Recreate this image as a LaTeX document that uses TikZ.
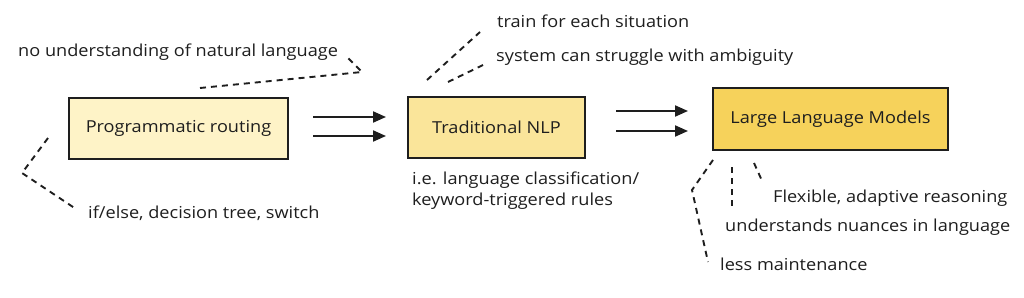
\documentclass[tikz,border=0pt]{standalone}
\usepackage{fontspec}
\setmainfont{Open Sans}[FakeStretch=1.1]
\usetikzlibrary{arrows.meta}
\definecolor{ink}{HTML}{1E1E1E}
\definecolor{boxa}{HTML}{FEF3C7}
\definecolor{boxb}{HTML}{FAE59A}
\definecolor{boxc}{HTML}{F6D25B}
\tikzset{
  stage/.style={draw=ink, line width=2pt, inner sep=0pt, anchor=north west, text=ink},
  label/.style={text=ink, font=\fontsize{16.5}{19}\selectfont},
  note/.style={text=ink, inner sep=0pt, anchor=west, font=\fontsize{16.5}{21}\selectfont},
  dashlink/.style={draw=ink, line width=1.9pt, dash pattern=on 6pt off 5pt},
  flow/.style={draw=ink, line width=2pt, -{Triangle[length=13pt,width=11pt]}}
}
\begin{document}
\begin{tikzpicture}[x=1pt,y=-1pt]
\useasboundingbox (0,0) rectangle (1024,297);
% boxes
\node[stage, fill=boxa, minimum width=219pt, minimum height=61pt] (pr) at (68,97) {};
\node[label] (prl) at (pr.center) {Programmatic routing};
\node[stage, fill=boxb, minimum width=177pt, minimum height=61pt] (nlp) at (407,96) {};
\node[label] (nlpl) at (nlp.center) {Traditional NLP};
\node[stage, fill=boxc, minimum width=235pt, minimum height=62pt] (llm) at (712,87) {};
\node[label] (llml) at (llm.center) {Large Language Models};
% arrows
\coordinate (a1s) at (313,117); \coordinate (a1e) at (386,117);
\coordinate (a2s) at (313,136); \coordinate (a2e) at (386,136);
\draw[flow] (a1s) -- (a1e);
\draw[flow] (a2s) -- (a2e);
\coordinate (b1s) at (616,111); \coordinate (b1e) at (688,111);
\coordinate (b2s) at (616,131); \coordinate (b2e) at (688,131);
\draw[flow] (b1s) -- (b1e);
\draw[flow] (b2s) -- (b2e);
% notes
\node[note] (n1) at (18,52) {no understanding of natural language};
\node[note] (n2) at (88,213) {if/else, decision tree, switch};
\node[note] (n3) at (497,21) {train for each situation};
\node[note] (n4) at (496,57) {system can struggle with ambiguity};
\node[note, align=left, anchor=north west] (n5) at (412,172) {i.e. language classification/\\keyword-triggered rules};
\node[note] (n6) at (773,198) {Flexible, adaptive reasoning};
\node[note] (n7) at (725,227) {understands nuances in language};
\node[note] (n8) at (720,264) {less maintenance};
% dashed links
\coordinate (d1a) at (200,88); \coordinate (d1b) at (362,72); \coordinate (d1c) at (348,58);
\draw[dashlink] (d1a) -- (d1b) -- (d1c);
\coordinate (d2a) at (48,138); \coordinate (d2b) at (22,173); \coordinate (d2c) at (76,209);
\draw[dashlink] (d2a) -- (d2b) -- (d2c);
\coordinate (d3a) at (427,80); \coordinate (d3b) at (480,32);
\draw[dashlink] (d3a) -- (d3b);
\coordinate (d4a) at (448,82); \coordinate (d4b) at (483,65);
\draw[dashlink] (d4a) -- (d4b);
\coordinate (d5a) at (713,160); \coordinate (d5b) at (692,190); \coordinate (d5c) at (708,262);
\draw[dashlink] (d5a) -- (d5b) -- (d5c);
\coordinate (d6a) at (732,167); \coordinate (d6b) at (732,207);
\draw[dashlink] (d6a) -- (d6b);
\coordinate (d7a) at (754,163); \coordinate (d7b) at (763,183);
\draw[dashlink] (d7a) -- (d7b);
\end{tikzpicture}
\end{document}
